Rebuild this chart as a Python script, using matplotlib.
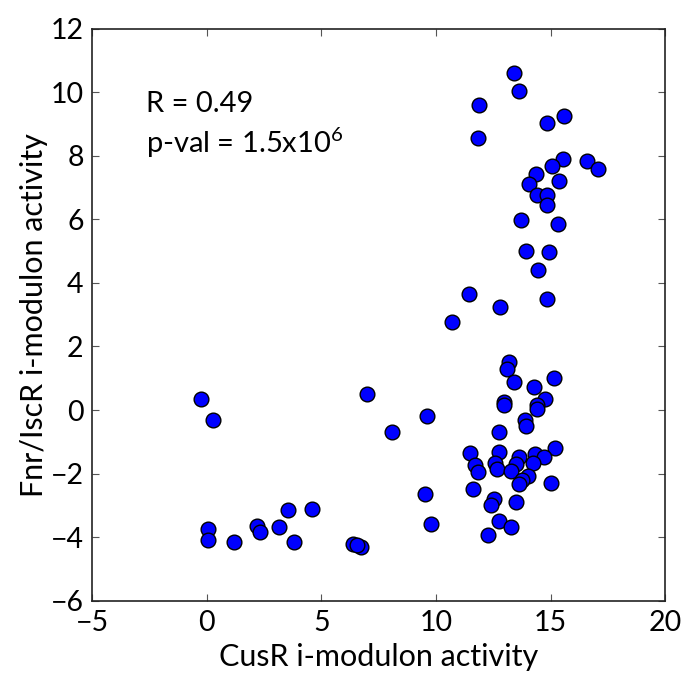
import matplotlib
matplotlib.use("Agg")
import matplotlib.pyplot as plt

plt.rcParams['font.family'] = ['Lato', 'DejaVu Sans']
plt.rcParams['mathtext.fontset'] = 'custom'
plt.rcParams['mathtext.rm'] = 'Lato'
plt.rcParams['mathtext.it'] = 'Lato:italic'

# CusR i-modulon activity (x) and Fnr/IscR i-modulon activity (y)
cusr = [
    13.40, 13.61, 11.88, 11.82, 14.84, 15.57, 15.54, 15.05, 14.38, 14.06,
    15.38, 16.59, 17.05, 14.39, 14.83, 14.84, 13.71, 15.32, 13.94, 14.94,
    14.45, 11.43, 14.86, 12.79, 10.71,
    13.17, 13.10, 13.40, 15.14, 14.28, 14.77, 14.39, 14.39, 12.95, 12.97,
    13.90, 13.94, 12.75, 15.20,
    11.48, 12.74, 11.72, 11.85, 12.59, 12.68, 13.62, 13.50, 13.26, 14.31,
    14.71, 14.25, 14.01, 13.74, 13.61, 15.00, 11.63, 12.55, 12.39, 13.48,
    12.74, 13.29, 12.27,
    -0.26, 0.26, 7.01, 8.08, 9.62, 9.54, 9.77,
    0.07, 0.07, 1.19, 2.21, 2.33, 3.17, 3.55, 3.81, 4.59, 6.37, 6.72, 6.55,
]
fnr_iscr = [
    10.62, 10.05, 9.60, 8.57, 9.02, 9.24, 7.89, 7.67, 7.42, 7.10,
    7.21, 7.83, 7.58, 6.77, 6.78, 6.45, 5.98, 5.85, 5.00, 4.96,
    4.40, 3.65, 3.50, 3.23, 2.77,
    1.52, 1.28, 0.89, 1.01, 0.74, 0.36, 0.15, 0.02, 0.26, 0.16,
    -0.31, -0.49, -0.68, -1.18,
    -1.36, -1.33, -1.73, -1.96, -1.68, -1.87, -1.49, -1.71, -1.93, -1.38,
    -1.49, -1.66, -2.07, -2.19, -2.32, -2.29, -2.47, -2.81, -2.99, -2.89,
    -3.49, -3.68, -3.94,
    0.35, -0.31, 0.50, -0.70, -0.18, -2.64, -3.59,
    -3.75, -4.09, -4.15, -3.64, -3.83, -3.68, -3.14, -4.15, -3.12, -4.22, -4.30, -4.24,
]

r_text = "R = 0.49"
p_text = r"p-val = 1.5x10$^{\mathregular{6}}$"
x_label = "CusR i-modulon activity"
y_label = "Fnr/IscR i-modulon activity"
x_ticks = [-5, 0, 5, 10, 15, 20]
y_ticks = [-6, -4, -2, 0, 2, 4, 6, 8, 10, 12]

fig = plt.figure(figsize=(6.83, 6.77), dpi=100)
ax = fig.add_axes([0.1347, 0.1127, 0.9741 - 0.1347, 0.9576 - 0.1127])

ax.scatter(cusr, fnr_iscr, s=112, c='#0000ff', edgecolors='black', linewidths=1.0, zorder=3)

ax.set_xlim(-5, 20)
ax.set_ylim(-6, 12)
ax.set_xticks(x_ticks)
ax.set_yticks(y_ticks)
ax.set_xticklabels([str(t).replace('-', '\u2212') for t in x_ticks])
ax.set_yticklabels([str(t).replace('-', '\u2212') for t in y_ticks])
ax.tick_params(direction='in', length=5, width=0.8, color='#555555',
               top=True, right=True, labelsize=20.5)
ax.tick_params(axis='x', pad=7)
ax.tick_params(axis='y', pad=6)
for sp in ax.spines.values():
    sp.set_linewidth(1.2)
    sp.set_color('#222222')

ax.set_xlabel(x_label, fontsize=22, labelpad=5)
ax.set_ylabel(y_label, fontsize=22, labelpad=2)

ax.text(-2.65, 9.63, r_text, fontsize=21, va='center', ha='left')
ax.text(-2.65, 8.40, p_text, fontsize=21, va='center', ha='left')

fig.savefig("out.png", dpi=100)
